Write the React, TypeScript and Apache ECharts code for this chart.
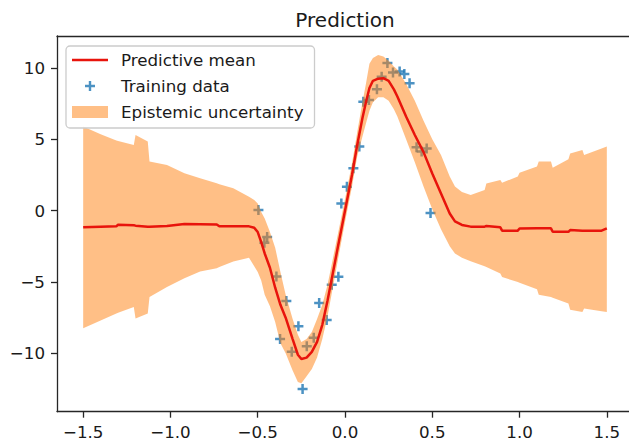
import React, { useEffect, useRef } from 'react';
import * as echarts from 'echarts';

// Prediction grid: x, predictive mean and the epistemic band (lower / upper)
const gridX = [
  -1.5, -1.4, -1.31, -1.3, -1.21, -1.2, -1.13, -1.12, -1.02, -0.92, -0.83, -0.735, -0.72, -0.64, -0.55,
  -0.52, -0.5, -0.48, -0.46, -0.43, -0.4, -0.37, -0.34, -0.3, -0.27, -0.25, -0.22, -0.19, -0.16, -0.13,
  -0.1, -0.07, -0.04, 0.0, 0.04, 0.07, 0.1, 0.12, 0.14, 0.16, 0.19, 0.22, 0.25, 0.28, 0.3, 0.35, 0.4,
  0.45, 0.5, 0.55, 0.6, 0.63, 0.67, 0.72, 0.8, 0.81, 0.89, 0.9, 0.99, 1.0, 1.1, 1.11, 1.18, 1.19, 1.28,
  1.29, 1.36, 1.37, 1.47, 1.5,
];
const meanValues = [
  -1.16, -1.12, -1.1, -0.98, -1.02, -1.05, -1.12, -1.12, -1.08, -0.93, -0.95, -0.97, -1.1, -1.1, -1.1,
  -1.2, -1.5, -2.2, -3.0, -4.0, -5.4, -6.6, -7.5, -9.0, -10.1, -10.4, -10.3, -9.9, -9.2, -8.0,
  -6.3, -4.4, -2.5, 0.0, 2.5, 4.6, 6.5, 7.6, 8.6, 9.1, 9.25, 9.28, 9.1, 8.5, 8.0, 6.6, 5.3,
  4.1, 2.6, 1.2, -0.2, -0.75, -1.0, -1.12, -1.12, -1.08, -1.17, -1.4, -1.4, -1.25, -1.24, -1.24, -1.24, -1.48, -1.48,
  -1.36, -1.4, -1.4, -1.4, -1.24,
];
const lowerBound = [
  -8.25, -7.7, -7.2, -7.15, -6.75, -7.55, -7.2, -6.05, -5.35, -4.74, -4.27, -4.04, -3.95, -3.57, -3.3,
  -3.9, -4.3, -4.9, -5.9, -6.7, -7.8, -9.3, -10.0, -11.2, -12.0, -12.1, -11.6, -11.1, -10.3, -9.0,
  -7.4, -5.4, -3.4, -0.8, 1.7, 3.8, 5.2, 6.1, 7.0, 7.6, 7.95, 7.95, 7.7, 7.1, 6.6, 5.0, 3.4,
  1.7, 0.1, -1.3, -2.5, -3.0, -3.3, -3.55, -3.9, -3.95, -4.4, -4.65, -5.0, -5.05, -5.5, -5.9, -6.05, -6.1, -6.5,
  -6.95, -7.1, -6.85, -7.05, -7.1,
];
const upperBound = [
  5.9, 5.35, 4.92, 4.88, 4.6, 5.3, 4.85, 3.45, 3.2, 2.62, 2.27, 1.92, 1.85, 1.57, 0.98,
  0.75, 0.5, -0.1, -0.55, -1.5, -2.6, -4.3, -5.9, -7.6, -8.7, -9.2, -9.0, -8.5, -7.6, -6.6,
  -5.2, -3.4, -1.6, 0.8, 3.3, 5.5, 7.6, 8.9, 10.3, 10.7, 10.9, 10.8, 10.5, 10.1, 9.9, 8.9, 7.7,
  6.3, 5.0, 3.9, 2.4, 1.7, 1.3, 1.1, 1.45, 1.9, 2.15, 1.95, 2.4, 2.65, 3.1, 3.45, 3.45, 3.0, 3.6,
  4.0, 4.25, 3.9, 4.35, 4.5,
];

// Training observations
const trainX = [
  -0.496, -0.446, -0.462, -0.393, -0.336, -0.267, -0.372, -0.305, -0.243, -0.219, -0.179, -0.148,
  -0.105, -0.076, -0.038, -0.021, 0.011, 0.048, 0.082, 0.105, 0.137, 0.183, 0.21, 0.243, 0.275,
  0.313, 0.34, 0.37, 0.41, 0.439, 0.468, 0.49,
];
const trainY = [
  0.05, -1.85, -2.25, -4.62, -6.33, -8.1, -9.0, -9.88, -12.5, -9.5, -8.9, -6.47,
  -7.66, -5.2, -4.64, 0.5, 1.68, 2.97, 4.5, 7.64, 7.76, 8.5, 9.39, 10.35, 9.68,
  9.75, 9.58, 8.93, 4.45, 4.14, 4.35, -0.16,
];

// Axis ticks
const xTicks = [-1.5, -1.0, -0.5, 0.0, 0.5, 1.0, 1.5];
const xTickLabels = ['\u22121.5', '\u22121.0', '\u22120.5', '0.0', '0.5', '1.0', '1.5'];
const yTicks = [-10, -5, 0, 5, 10];
const yTickLabels = ['\u221210', '\u22125', '0', '5', '10'];

const FONT = 'DejaVu Sans';
const INK = '#1a1a1a';
const SPINE = '#262626';
const RED = '#e8140c';
const BLUE = '#1f77b4';
const BAND = 'rgba(255,127,14,0.5)';
const PLUS = 'path://M3.75,0H6.25V3.75H10V6.25H6.25V10H3.75V6.25H0V3.75H3.75Z';
const PLUS_LEGEND =
  'path://M0,0h0.01v0.01h-0.01Z M12,12h-0.01v-0.01h0.01Z M4.8,1H7.2V4.8H11V7.2H7.2V11H4.8V7.2H1V4.8H4.8Z';
const LINE_LEGEND = 'path://M0,0H36V2.6H0Z';

const labelFor = (values: number[], labels: string[]) => (v: number) => {
  const i = values.findIndex((t) => Math.abs(t - v) < 1e-9);
  return i >= 0 ? labels[i] : '';
};

const spine = { show: true, onZero: false, lineStyle: { color: SPINE, width: 1.3 } };
const tickStyle = { color: SPINE, width: 1.3 };
const labelStyle = { margin: 12, fontFamily: FONT, fontSize: 16.7, color: INK };

export default function App() {
  const ref = useRef<HTMLDivElement>(null);

  useEffect(() => {
    if (!ref.current) return;
    const chart = echarts.init(ref.current, null, { renderer: 'svg' });

    const bandData = gridX.map((x, i) => [x, lowerBound[i], upperBound[i]]);

    chart.setOption({
      animation: false,
      title: {
        text: 'Prediction',
        left: 345,
        top: 10,
        padding: 0,
        textAlign: 'center',
        textStyle: { fontFamily: FONT, fontSize: 20, fontWeight: 'normal', color: INK },
      },
      grid: {
        left: 57,
        top: 36,
        width: 576,
        height: 375.7,
        outerBoundsMode: 'none',
        containLabel: false,
      },
      xAxis: [
        {
          type: 'value',
          position: 'bottom',
          min: -1.65,
          max: 1.65,
          axisLine: spine,
          splitLine: { show: false },
          axisTick: { show: true, customValues: xTicks, length: 6, lineStyle: tickStyle },
          axisLabel: { ...labelStyle, customValues: xTicks, formatter: labelFor(xTicks, xTickLabels) },
        },
        {
          // top spine only
          type: 'value',
          position: 'top',
          min: -1.65,
          max: 1.65,
          axisLine: spine,
          splitLine: { show: false },
          axisTick: { show: false },
          axisLabel: { show: false },
        },
      ],
      yAxis: {
        type: 'value',
        position: 'left',
        min: -14.09,
        max: 12.24,
        axisLine: spine,
        splitLine: { show: false },
        axisTick: { show: true, customValues: yTicks, length: 6, lineStyle: tickStyle },
        axisLabel: { ...labelStyle, customValues: yTicks, formatter: labelFor(yTicks, yTickLabels) },
      },
      legend: {
        left: 66,
        top: 46,
        orient: 'vertical',
        itemWidth: 36,
        itemHeight: 12,
        itemGap: 6,
        padding: [4, 11, 6, 6],
        selectedMode: false,
        backgroundColor: 'rgba(255,255,255,0.8)',
        borderColor: '#cccccc',
        borderWidth: 1.3,
        borderRadius: 4,
        textStyle: { fontFamily: FONT, fontSize: 16.7, color: INK, lineHeight: 20, padding: [0, 0, 0, 8] },
        data: [
          { name: 'Predictive mean', icon: LINE_LEGEND },
          { name: 'Training data', icon: PLUS_LEGEND },
          { name: 'Epistemic uncertainty', icon: 'rect' },
        ],
      },
      series: [
        {
          name: 'Training data',
          type: 'scatter',
          z: 2,
          symbol: PLUS,
          symbolSize: 10,
          itemStyle: { color: BLUE },
          data: trainX.map((x, i) => [x, trainY[i]]),
        },
        {
          name: 'Epistemic uncertainty',
          type: 'custom',
          z: 3,
          itemStyle: { color: BAND },
          encode: { x: 0, y: [1, 2] },
          data: bandData,
          renderItem: (params: any, api: any) => {
            if (params.dataIndex !== 0) return null;
            const pts: number[][] = [];
            for (let i = 0; i < gridX.length; i++) pts.push(api.coord([gridX[i], upperBound[i]]));
            for (let i = gridX.length - 1; i >= 0; i--) pts.push(api.coord([gridX[i], lowerBound[i]]));
            return { type: 'polygon', shape: { points: pts }, style: { fill: BAND } };
          },
        },
        {
          name: 'Predictive mean',
          type: 'line',
          z: 4,
          symbol: 'none',
          showSymbol: false,
          itemStyle: { color: RED },
          lineStyle: { color: RED, width: 2.5 },
          data: gridX.map((x, i) => [x, meanValues[i]]),
        },
      ],
    });

    return () => chart.dispose();
  }, []);

  return (
    <div
      ref={ref}
      style={{ position: 'absolute', left: 0, top: 0, width: 629, height: 443, background: '#fff' }}
    />
  );
}
